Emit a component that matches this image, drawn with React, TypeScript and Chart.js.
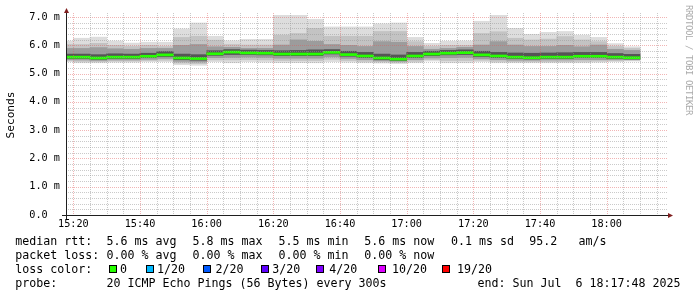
import React, { useEffect, useRef } from 'react';
import { Chart, registerables } from 'chart.js';

Chart.register(...registerables);

// ---------------- data ----------------
const startTime = '15:17:48';
const endTime = '18:17:48';

// end time of each 5-minute sample
const segmentEnds = [
  '15:20', '15:25', '15:30', '15:35', '15:40', '15:45', '15:50', '15:55',
  '16:00', '16:05', '16:10', '16:15', '16:20', '16:25', '16:30', '16:35',
  '16:40', '16:45', '16:50', '16:55', '17:00', '17:05', '17:10', '17:15',
  '17:20', '17:25', '17:30', '17:35', '17:40', '17:45', '17:50', '17:55',
  '18:00', '18:05', '18:10',
];

// median rtt (ms)
const medianMs = [
  5.58, 5.58, 5.55, 5.58, 5.58, 5.61, 5.66, 5.55, 5.53, 5.70, 5.76, 5.73,
  5.72, 5.69, 5.69, 5.69, 5.75, 5.67, 5.62, 5.55, 5.51, 5.62, 5.69, 5.72,
  5.74, 5.66, 5.62, 5.58, 5.56, 5.58, 5.58, 5.61, 5.61, 5.58, 5.56,
];
// smoke: slowest ping (ms)
const maxMs = [
  6.16, 6.26, 6.30, 6.16, 6.09, 6.12, 6.12, 6.59, 6.80, 6.33, 6.17, 6.22,
  6.22, 7.20, 7.15, 6.93, 6.66, 6.66, 6.66, 6.77, 6.80, 6.29, 6.08, 6.15,
  6.16, 6.86, 7.12, 6.61, 6.40, 6.47, 6.50, 6.37, 6.29, 6.07, 5.96,
];
const p90Ms = [
  6.04, 6.04, 6.08, 6.01, 5.97, 6.01, 5.97, 6.29, 6.33, 6.19, 6.04, 6.02,
  6.02, 6.37, 6.43, 6.61, 6.33, 6.33, 6.33, 6.50, 6.50, 6.14, 5.97, 6.01,
  6.01, 6.43, 6.49, 6.26, 6.20, 6.23, 6.32, 6.20, 6.14, 5.97, 5.90,
];
const p75Ms = [
  5.90, 5.90, 5.93, 5.89, 5.87, 5.90, 5.90, 6.01, 6.04, 5.96, 5.94, 5.90,
  5.90, 6.02, 6.20, 6.15, 6.04, 6.01, 5.97, 6.14, 6.12, 5.97, 5.87, 5.90,
  5.94, 6.02, 6.14, 6.02, 5.97, 5.97, 6.01, 5.96, 6.02, 5.87, 5.83,
];
const p60Ms = [
  5.70, 5.70, 5.68, 5.71, 5.70, 5.73, 5.79, 5.70, 5.68, 5.82, 5.86, 5.84,
  5.83, 5.82, 5.83, 5.85, 5.86, 5.80, 5.76, 5.70, 5.67, 5.76, 5.80, 5.83,
  5.85, 5.80, 5.76, 5.74, 5.73, 5.74, 5.75, 5.76, 5.76, 5.72, 5.69,
];
const p40Ms = [
  5.52, 5.52, 5.49, 5.52, 5.52, 5.55, 5.59, 5.48, 5.46, 5.63, 5.66, 5.66,
  5.65, 5.62, 5.62, 5.62, 5.68, 5.60, 5.55, 5.48, 5.45, 5.55, 5.62, 5.65,
  5.66, 5.59, 5.55, 5.52, 5.50, 5.52, 5.52, 5.55, 5.55, 5.52, 5.50,
];
const p25Ms = [
  5.48, 5.47, 5.45, 5.47, 5.47, 5.49, 5.52, 5.42, 5.40, 5.55, 5.56, 5.57,
  5.56, 5.53, 5.53, 5.53, 5.58, 5.52, 5.48, 5.44, 5.42, 5.48, 5.54, 5.55,
  5.56, 5.51, 5.48, 5.46, 5.46, 5.47, 5.47, 5.48, 5.48, 5.48, 5.48,
];
const p10Ms = [
  5.44, 5.42, 5.41, 5.43, 5.43, 5.45, 5.46, 5.36, 5.34, 5.47, 5.47, 5.48,
  5.47, 5.45, 5.45, 5.45, 5.49, 5.45, 5.42, 5.40, 5.38, 5.42, 5.48, 5.45,
  5.45, 5.46, 5.42, 5.41, 5.41, 5.41, 5.41, 5.42, 5.43, 5.44, 5.46,
];
// smoke: fastest ping (ms)
const minMs = [
  5.41, 5.37, 5.37, 5.39, 5.39, 5.41, 5.41, 5.30, 5.28, 5.41, 5.37, 5.41,
  5.39, 5.37, 5.37, 5.37, 5.41, 5.39, 5.37, 5.36, 5.34, 5.37, 5.43, 5.37,
  5.37, 5.41, 5.37, 5.37, 5.37, 5.37, 5.37, 5.37, 5.39, 5.41, 5.43,
];

const xTickLabels = ['15:20', '15:40', '16:00', '16:20', '16:40', '17:00', '17:20', '17:40', '18:00'];
const yTickLabels = ['0.0  ', '1.0 m', '2.0 m', '3.0 m', '4.0 m', '5.0 m', '6.0 m', '7.0 m'];

const rttStats = ['5.6 ms avg', '5.8 ms max', '5.5 ms min', '5.6 ms now', '0.1 ms sd', '95.2', 'am/s'];
const lossStats = ['0.00 % avg', '0.00 % max', '0.00 % min', '0.00 % now'];
const lossLabels = ['0', '1/20', '2/20', '3/20', '4/20', '10/20', '19/20'];
const lossColors = ['#26ff00', '#00b8ff', '#0059ff', '#5e00ff', '#7e00ff', '#dd00ff', '#ff0000'];
const probeText = '20 ICMP Echo Pings (56 Bytes) every 300s';
const endText = 'end: Sun Jul  6 18:17:48 2025';

// ---------------- layout / style ----------------
const STEP_MIN = 5;
const Y_MAX = 7.07;
const Y_MINOR = 0.2;
const MED_HALF = 0.048;
const MONO = '"DejaVu Sans Mono", monospace';
const GRID = 'rgba(150,150,150,0.5)';
const MGRID = 'rgba(225,90,90,0.45)';
const AXIS = '#1f1f1f';
const ARROW = '#801f1f';

const statX = [106.5, 192.5, 278.5, 364.2, 450.9, 529.2, 578.5];
const swatchX = [109, 146, 203.3, 260.7, 316, 377.7, 442.3];
const lossTextX = [120, 157, 215.5, 272.2, 329.3, 392, 457];
const lineTops = [234, 248, 262, 276];

const toMin = (s: string) => {
  const p = s.split(':').map(Number);
  return p[0] * 60 + p[1] + (p[2] || 0) / 60;
};
const isWhole = (v: number) => Math.abs(v - Math.round(v)) < 1e-6;

const xStart = toMin(startTime);
const xEnd = toMin(endTime);
const xGridValues: number[] = [];
for (let v = Math.ceil(xStart / STEP_MIN) * STEP_MIN; v <= xEnd; v += STEP_MIN) xGridValues.push(v);
const yGridValues: number[] = [];
for (let k = 0; k * Y_MINOR <= Y_MAX + 1e-9; k++) yGridValues.push(Math.round(k * Y_MINOR * 10) / 10);

const rrdPlugin = {
  id: 'rrdGrid',
  afterDatasetsDraw(chart: any) {
    const { ctx, chartArea: a } = chart;
    const xs = chart.scales.x;
    const ys = chart.scales.y;
    const L = Math.round(a.left), R = Math.round(a.right), T = Math.round(a.top), B = Math.round(a.bottom);
    ctx.save();
    ctx.lineWidth = 1;
    ctx.setLineDash([1, 1]);
    for (const t of ys.ticks) {
      if (t.value <= 0) continue;
      const py = Math.round(ys.getPixelForValue(t.value)) + 0.5;
      ctx.strokeStyle = isWhole(t.value) ? MGRID : GRID;
      ctx.beginPath(); ctx.moveTo(L, py); ctx.lineTo(R + 2, py); ctx.stroke();
    }
    for (const t of xs.ticks) {
      const px = Math.round(xs.getPixelForValue(t.value)) + 0.5;
      ctx.strokeStyle = Math.round(t.value) % 20 === 0 ? MGRID : GRID;
      ctx.beginPath(); ctx.moveTo(px, T - 2); ctx.lineTo(px, B); ctx.stroke();
    }
    ctx.setLineDash([]);
    ctx.strokeStyle = AXIS;
    ctx.beginPath(); ctx.moveTo(L - 4, B + 0.5); ctx.lineTo(R + 4, B + 0.5); ctx.stroke();
    ctx.beginPath(); ctx.moveTo(L + 0.5, B + 4); ctx.lineTo(L + 0.5, T - 4); ctx.stroke();
    ctx.fillStyle = ARROW;
    ctx.beginPath(); ctx.moveTo(L - 2, T - 2); ctx.lineTo(L + 3, T - 2); ctx.lineTo(L + 0.5, T - 7); ctx.closePath(); ctx.fill();
    ctx.beginPath(); ctx.moveTo(R + 2, B - 2); ctx.lineTo(R + 2, B + 3); ctx.lineTo(R + 7, B + 0.5); ctx.closePath(); ctx.fill();
    ctx.restore();
  },
};

export default function App() {
  const ref = useRef<HTMLCanvasElement>(null);

  useEffect(() => {
    document.body.style.margin = '0';
    const canvas = ref.current;
    if (!canvas) return;
    const mids = segmentEnds.map((t) => toMin(t) - STEP_MIN / 2);
    const band = (lo: number[], hi: number[]) => mids.map((x, i) => ({ x, y: [lo[i], hi[i]] }));
    const barStyle = {
      type: 'bar' as const,
      borderWidth: 0,
      borderSkipped: false,
      barPercentage: 1.04,
      categoryPercentage: 1,
      grouped: false,
      clip: 0,
    };
    const chart = new Chart(canvas, {
      type: 'bar',
      data: {
        datasets: [
          { ...barStyle, label: 'min-max', data: band(minMs, maxMs), backgroundColor: '#dddddd', order: 5 },
          { ...barStyle, label: 'p10-p90', data: band(p10Ms, p90Ms), backgroundColor: '#c3c3c3', order: 4 },
          { ...barStyle, label: 'p25-p75', data: band(p25Ms, p75Ms), backgroundColor: '#9c9c9c', order: 3 },
          { ...barStyle, label: 'p40-p60', data: band(p40Ms, p60Ms), backgroundColor: '#555555', order: 2 },
          {
            ...barStyle,
            label: 'median',
            data: mids.map((x, i) => ({ x, y: [medianMs[i] - MED_HALF, medianMs[i] + MED_HALF] })),
            backgroundColor: '#26ff00',
            order: 1,
          },
        ] as any,
      },
      options: {
        responsive: false,
        animation: false,
        events: [],
        layout: { padding: { top: 15, right: 31, bottom: 0, left: 0 } },
        plugins: { legend: { display: false }, tooltip: { enabled: false }, title: { display: false } },
        scales: {
          x: {
            type: 'linear',
            min: xStart,
            max: xEnd,
            offset: false,
            grid: { display: false, drawTicks: false },
            border: { display: false },
            afterBuildTicks: (s: any) => { s.ticks = xGridValues.map((v) => ({ value: v })); },
            afterFit: (s: any) => { s.height = 82; },
            ticks: {
              autoSkip: false,
              maxRotation: 0,
              minRotation: 0,
              padding: 3,
              color: '#000',
              font: { family: MONO, size: 10.2 },
              callback: (v: any) => {
                const lab = xTickLabels.find((l) => Math.abs(toMin(l) - Number(v)) < 1e-6);
                return lab || '';
              },
            },
          },
          y: {
            type: 'linear',
            min: 0,
            max: Y_MAX,
            grid: { display: false, drawTicks: false },
            border: { display: false },
            afterBuildTicks: (s: any) => { s.ticks = yGridValues.map((v) => ({ value: v })); },
            afterFit: (s: any) => { s.width = 66; },
            ticks: {
              autoSkip: false,
              padding: 6,
              color: '#000',
              font: { family: MONO, size: 10.2 },
              callback: (v: any) => (isWhole(Number(v)) ? yTickLabels[Math.round(Number(v))] || '' : ''),
            },
            title: {
              display: true,
              text: 'Seconds',
              color: '#000',
              font: { family: MONO, size: 11.2 },
              padding: { top: 4, bottom: 0 },
            },
          },
        },
      } as any,
      plugins: [rrdPlugin],
    });
    return () => chart.destroy();
  }, []);

  const txt = (left: number, top: number, s: string, key: string) => (
    <span
      key={key}
      style={{
        position: 'absolute', left, top, fontFamily: MONO, fontSize: 11.63, lineHeight: '14px',
        height: 14, whiteSpace: 'pre', color: '#000',
      }}
    >
      {s}
    </span>
  );

  return (
    <div style={{ position: 'absolute', left: 0, top: 0, width: 697, height: 297, background: '#fff', overflow: 'hidden' }}>
      <canvas ref={ref} width={697} height={297} style={{ position: 'absolute', left: 0, top: 0, width: 697, height: 297 }} />
      {txt(15.3, lineTops[0], 'median rtt:', 'l1')}
      {rttStats.map((s, i) => txt(statX[i], lineTops[0], s, 'r' + i))}
      {txt(15.3, lineTops[1], 'packet loss:', 'l2')}
      {lossStats.map((s, i) => txt(statX[i], lineTops[1], s, 'p' + i))}
      {txt(15.3, lineTops[2], 'loss color:', 'l3')}
      {lossLabels.map((s, i) => (
        <React.Fragment key={'c' + i}>
          <span
            style={{
              position: 'absolute', left: swatchX[i], top: 265, width: 8, height: 8, boxSizing: 'border-box',
              border: '1px solid #000', background: lossColors[i],
            }}
          />
          {txt(lossTextX[i], lineTops[2], s, 'ct' + i)}
        </React.Fragment>
      ))}
      {txt(15.3, lineTops[3], 'probe:', 'l4')}
      {txt(statX[0], lineTops[3], probeText, 'pr')}
      {txt(477.5, lineTops[3], endText, 'en')}
      <div
        style={{
          position: 'absolute', left: 684, top: 5, writingMode: 'vertical-rl', fontFamily: MONO, fontSize: 9,
          lineHeight: '9px', letterSpacing: '-0.42px', color: '#aaaaaa', whiteSpace: 'pre',
        }}
      >
        RRDTOOL / TOBI OETIKER
      </div>
    </div>
  );
}
